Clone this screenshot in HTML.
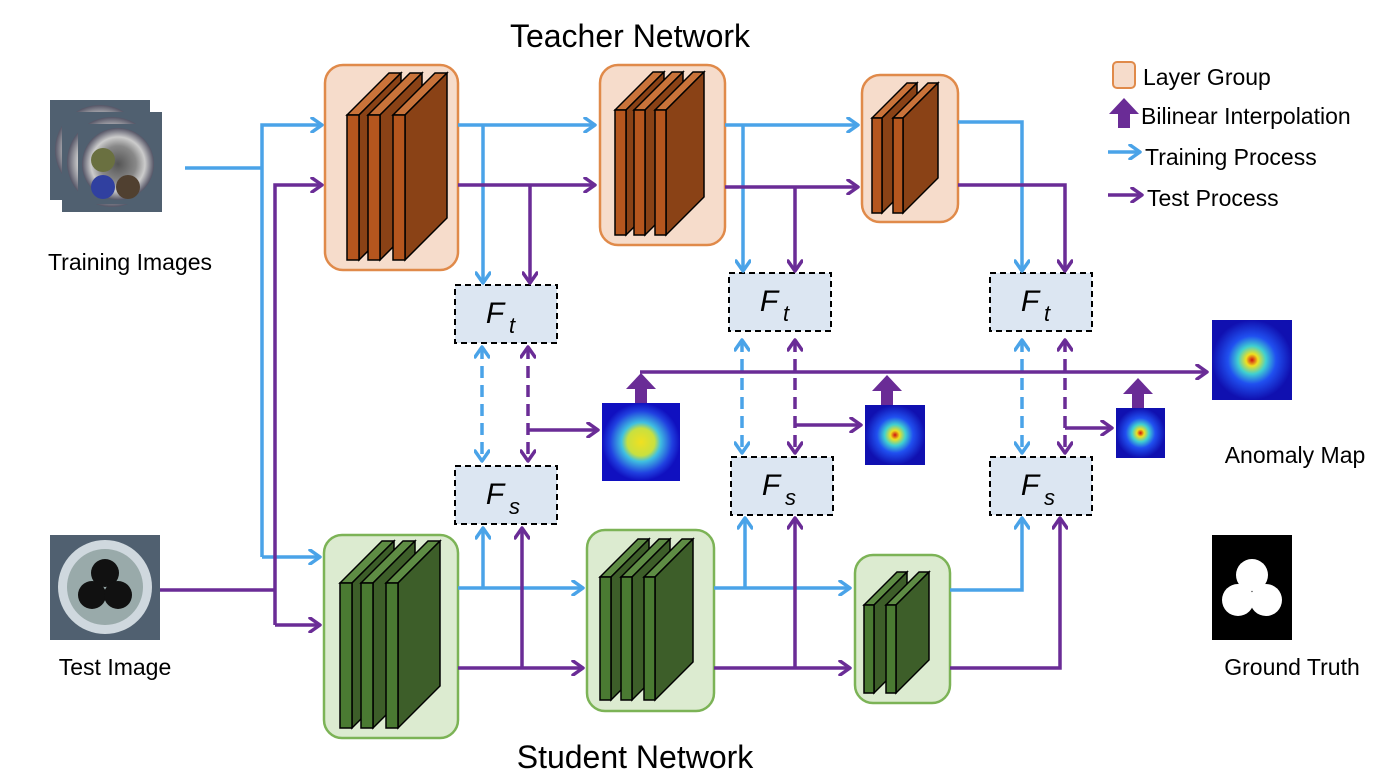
<!DOCTYPE html>
<html><head><meta charset="utf-8"><style>
html,body{margin:0;padding:0;background:#fff}
svg{display:block}
text{font-family:"Liberation Sans",sans-serif;fill:#000}
</style></head><body>
<svg id="s" width="1400" height="782" viewBox="0 0 1400 782" xmlns="http://www.w3.org/2000/svg">
<defs>
<marker id="ab" markerWidth="16" markerHeight="16" refX="13" refY="8" orient="auto-start-reverse" markerUnits="userSpaceOnUse" viewBox="0 0 16 16"><path d="M3,1 L13,8 L3,15" fill="none" stroke="#4aa3e8" stroke-width="3.5" stroke-linecap="round" stroke-linejoin="round"/></marker>
<marker id="ap" markerWidth="16" markerHeight="16" refX="13" refY="8" orient="auto-start-reverse" markerUnits="userSpaceOnUse" viewBox="0 0 16 16"><path d="M3,1 L13,8 L3,15" fill="none" stroke="#6a2c96" stroke-width="3.5" stroke-linecap="round" stroke-linejoin="round"/></marker>
<radialGradient id="g1"><stop offset="0" stop-color="#f0e020"/><stop offset="0.35" stop-color="#c8e040"/><stop offset="0.5" stop-color="#40c0e0"/><stop offset="0.8" stop-color="#2040e0"/><stop offset="1" stop-color="#1010c0"/></radialGradient>
<radialGradient id="g2"><stop offset="0" stop-color="#d01010"/><stop offset="0.15" stop-color="#f0e020"/><stop offset="0.35" stop-color="#40d0d0"/><stop offset="0.6" stop-color="#2050f0"/><stop offset="1" stop-color="#1010b0"/></radialGradient>
<radialGradient id="gi"><stop offset="0" stop-color="#555"/><stop offset="0.5" stop-color="#888"/><stop offset="0.75" stop-color="#ccc"/><stop offset="1" stop-color="#556"/></radialGradient>
</defs>
<g id="g"></g>
<text x="630" y="47" font-size="32" text-anchor="middle">Teacher Network</text>
<text x="635" y="768" font-size="32" text-anchor="middle">Student Network</text>
<text x="130" y="270" font-size="23" text-anchor="middle">Training Images</text>
<text x="115" y="675" font-size="23" text-anchor="middle">Test Image</text>
<text x="1295" y="463" font-size="23" text-anchor="middle">Anomaly Map</text>
<text x="1292" y="675" font-size="23" text-anchor="middle">Ground Truth</text>
<text x="1143" y="85" font-size="23">Layer Group</text>
<text x="1141" y="124" font-size="23">Bilinear Interpolation</text>
<text x="1145" y="165" font-size="23">Training Process</text>
<text x="1147" y="206" font-size="23">Test Process</text>
</svg>
<script>
var g=document.getElementById('g'),h='';
function R(x,y,w,hh,f,s,rx,extra){h+=`<rect x="${x}" y="${y}" width="${w}" height="${hh}" rx="${rx||0}" fill="${f}" stroke="${s}" ${extra||''}/>`;}
function L(p,c,m1,m2,dash,w){h+=`<polyline points="${p}" fill="none" stroke="${c=='b'?'#4aa3e8':'#6a2c96'}" stroke-width="${w||3.5}" ${dash?'stroke-dasharray="12,7"':''} ${m1?'marker-start="url(#a'+c+')"':''} ${m2?'marker-end="url(#a'+c+')"':''}/>`;}
function slab(x,y,w,hh,d,front,side,top){
 h+=`<polygon points="${x},${y} ${x+d},${y-d} ${x+d+w},${y-d} ${x+w},${y}" fill="${top}" stroke="#000" stroke-width="1.5"/>`;
 h+=`<polygon points="${x+w},${y} ${x+w+d},${y-d} ${x+w+d},${y+hh-d} ${x+w},${y+hh}" fill="${side}" stroke="#000" stroke-width="1.5"/>`;
 h+=`<rect x="${x}" y="${y}" width="${w}" height="${hh}" fill="${front}" stroke="#000" stroke-width="1.5"/>`;}
function group(bx,by,bw,bh,xs,y,w,hh,d,t){
 if(t)R(bx,by,bw,bh,'#f6dccb','#e08a4a',18,'stroke-width="2.5"');else R(bx,by,bw,bh,'#dcebd0','#7cb356',18,'stroke-width="2.5"');
 xs.forEach(function(x){ if(t)slab(x,y,w,hh,d,'#b5561e','#8a4216','#c9733a');else slab(x,y,w,hh,d,'#4a7a32','#3d5e29','#5e8c44');});}
group(325,65,133,205,[347,368,393],115,12,145,42,1);
group(600,65,125,180,[615,634,655],110,11,125,38,1);
group(862,75,96,147,[872,893],118,10,95,35,1);
group(324,535,134,203,[340,361,386],583,12,145,42,0);
group(587,530,127,181,[600,621,644],577,11,123,38,0);
group(855,555,95,148,[864,886],605,10,88,33,0);
function img(x,y,w){R(x,y,w,w,'#506070','none');h+=`<circle cx="${x+w/2}" cy="${y+w/2}" r="${w*0.45}" fill="url(#gi)"/>`;}
img(50,100,100);img(62,112,100);img(78,124,80);
h+=`<circle cx="103" cy="160" r="12" fill="#6a7040"/><circle cx="103" cy="187" r="12" fill="#3040a0"/><circle cx="128" cy="187" r="12" fill="#504030"/>`;
R(50,535,110,105,'#506070','none');h+=`<circle cx="105" cy="587" r="47" fill="#cfd8de"/><circle cx="105" cy="587" r="38" fill="#9aa"/><circle cx="105" cy="573" r="14" fill="#111"/><circle cx="92" cy="595" r="14" fill="#111"/><circle cx="118" cy="595" r="14" fill="#111"/>`;
R(602,403,78,78,'url(#g1)','none');R(865,405,60,60,'url(#g2)','none');R(1116,408,49,50,'url(#g2)','none');
R(1212,320,80,80,'url(#g2)','none');
R(1212,535,80,105,'#000','none');h+=`<circle cx="1252" cy="575" r="16" fill="#fff"/><circle cx="1238" cy="600" r="16" fill="#fff"/><circle cx="1266" cy="600" r="16" fill="#fff"/>`;
function F(x,y,sub){R(x,y,102,58,'#dce6f2','#000',0,'stroke-width="2" stroke-dasharray="6,4"');h+=`<text x="${x+40}" y="${y+38}" font-size="30" font-style="italic" text-anchor="middle">F</text><text x="${x+54}" y="${y+48}" font-size="22" font-style="italic">${sub}</text>`;}
F(455,285,'t');F(729,273,'t');F(990,273,'t');F(455,466,'s');F(731,457,'s');F(990,457,'s');
L('185,168 262,168','b');L('262,557 262,125 322,125','b',0,1);L('262,557 320,557','b',0,1);
L('160,590 275,590','p');L('275,625 275,185 322,185','p',0,1);L('275,625 320,625','p',0,1);
L('458,125 595,125','b',0,1);L('483,125 483,283','b',0,1);
L('458,185 595,185','p',0,1);L('530,185 530,283','p',0,1);
L('725,125 858,125','b',0,1);L('743,125 743,271','b',0,1);
L('725,187 858,187','p',0,1);L('795,187 795,271','p',0,1);
L('958,122 1022,122 1022,271','b',0,1);L('958,185 1065,185 1065,271','p',0,1);
[[482,528,345,463],[742,795,338,455],[1022,1065,338,455]].forEach(function(a){L(a[0]+','+(a[2]+2)+' '+a[0]+','+(a[3]-2),'b',1,1,1);L(a[1]+','+(a[2]+2)+' '+a[1]+','+(a[3]-2),'p',1,1,1);});
L('528,430 598,430','p',0,1);L('795,425 861,425','p',0,1);L('1065,428 1112,428','p',0,1);
L('640,372 1207,372','p',0,1);
function up(x,y){h+=`<polygon points="${x-6},${y} ${x-6},${y-14} ${x-15},${y-14} ${x},${y-30} ${x+15},${y-14} ${x+6},${y-14} ${x+6},${y}" fill="#6a2c96"/>`;}
up(641,403);up(887,405);up(1138,408);
R(1113,62,22,26,'#f6dccb','#e08a4a',4,'stroke-width="2"');up(1124,128);
L('1108,152 1140,152','b',0,1);L('1108,195 1142,195','p',0,1);
L('458,588 583,588','b',0,1);L('483,588 483,528','b',0,1);
L('458,668 583,668','p',0,1);L('522,668 522,528','p',0,1);
L('714,588 850,588','b',0,1);L('745,588 745,518','b',0,1);
L('714,668 850,668','p',0,1);L('795,668 795,518','p',0,1);
L('950,590 1022,590 1022,518','b',0,1);L('950,668 1060,668 1060,518','p',0,1);
g.innerHTML=h;
</script>
</body></html>
